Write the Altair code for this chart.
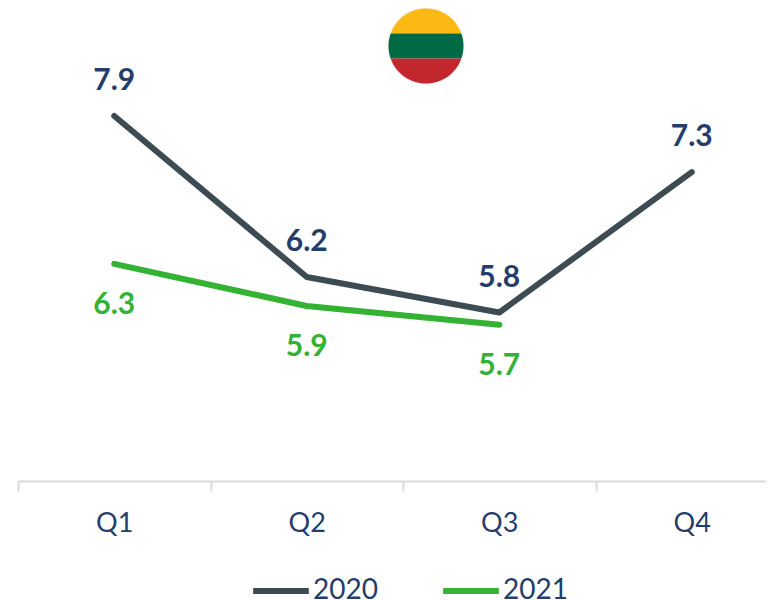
import altair as alt
import pandas as pd

quarters = ["Q1", "Q2", "Q3", "Q4"]
y2020 = [7.9, 6.18, 5.8, 7.3]
y2021 = [6.32, 5.87, 5.67]
labels2020 = ["7.9", "6.2", "5.8", "7.3"]
labels2021 = ["6.3", "5.9", "5.7"]

NAVY = "#253d6b"
DARK = "#3d4b53"
GREEN = "#33b233"
FONT = "Lato"

rows = []
for q, v, l in zip(quarters, y2020, labels2020):
    rows.append({"q": q, "v": v, "year": "2020", "label": l})
for q, v, l in zip(quarters, y2021, labels2021):
    rows.append({"q": q, "v": v, "year": "2021", "label": l})
df = pd.DataFrame(rows)

x = alt.X("q:N",
          scale=alt.Scale(type="band", domain=quarters, range=[10, 780], paddingInner=0, paddingOuter=0),
          axis=alt.Axis(title=None, labelAngle=0, labelFont=FONT, labelFontSize=27, labelColor=NAVY,
                        labelPadding=19, domainColor="#d9d9d9", domainWidth=2, tickColor="#d9d9d9",
                        tickWidth=2, tickSize=10, tickBand="extent", grid=False))
y = alt.Y("v:Q", scale=alt.Scale(domain=[4, 9], range=[473, 5]), axis=None)

lines = alt.Chart(df).mark_line(strokeWidth=6, strokeCap="round", strokeJoin="round").encode(
    x=x, y=y,
    color=alt.Color("year:N",
                    scale=alt.Scale(domain=["2020", "2021"], range=[DARK, GREEN]),
                    legend=alt.Legend(title=None, orient="none", legendX=242, legendY=552, direction="horizontal",
                                      columns=2, columnPadding=53,
                                      symbolType="stroke", symbolSize=3100, symbolStrokeWidth=6,
                                      labelFont=FONT, labelFontSize=28, labelColor=NAVY, labelOffset=1)),
)

top = alt.Chart(df[df.year == "2020"]).mark_text(font=FONT, fontSize=30, fontWeight="bold", color=NAVY, dy=-35).encode(
    x=x, y=y, text="label:N")
bottom = alt.Chart(df[df.year == "2021"]).mark_text(font=FONT, fontSize=30, fontWeight="bold", color=GREEN, dy=41).encode(
    x=x, y=y, text="label:N")

flag_df = pd.DataFrame({"band": ["top", "mid", "bot"]})
def band(name, path, colour):
    return alt.Chart(flag_df[flag_df.band == name]).mark_point(
        shape=path, filled=True, fill=colour, stroke=None, size=5625, opacity=1
    ).encode(x=alt.value(418), y=alt.value(38))

halo = alt.Chart(flag_df[flag_df.band == "mid"]).mark_point(
    shape="circle", filled=True, fill="#000000", opacity=0.04, size=6100
).encode(x=alt.value(418), y=alt.value(38))
flag_top = band("top", "M-0.943,-0.333 A1,1 0 0 1 0.943,-0.333 Z", "#fdb913")
flag_mid = band("mid", "M-0.943,-0.333 L0.943,-0.333 A1,1 0 0 1 0.943,0.333 L-0.943,0.333 A1,1 0 0 1 -0.943,-0.333 Z", "#006a44")
flag_bot = band("bot", "M-0.943,0.333 L0.943,0.333 A1,1 0 0 1 -0.943,0.333 Z", "#c1272d")

chart = alt.layer(lines, top, bottom, halo, flag_top, flag_mid, flag_bot).properties(
    width=758, height=473, padding={"left": 0, "top": 0, "right": 0, "bottom": 119},
    autosize=alt.AutoSizeParams(type="none"), background="white"
).configure_view(stroke=None)

chart.save("out.html", embed_options={"renderer": "svg", "actions": False})
